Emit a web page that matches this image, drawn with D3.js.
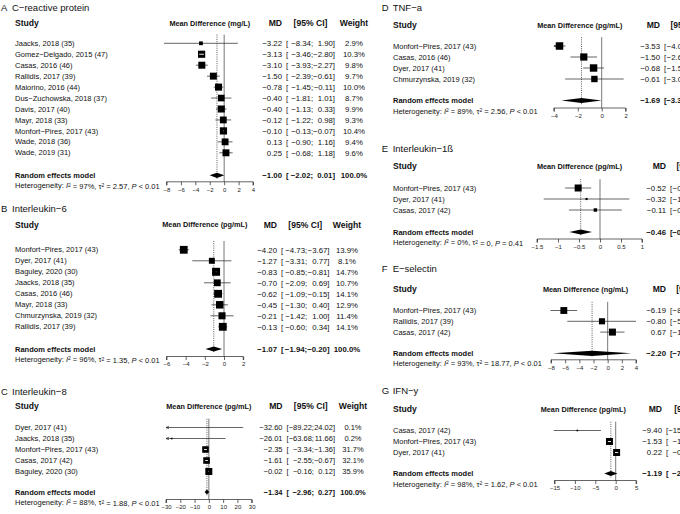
<!DOCTYPE html>
<html><head><meta charset="utf-8">
<script src="https://cdn.jsdelivr.net/npm/d3@7"></script>
<style>
body{margin:0;background:#fff;}
svg{display:block;font-family:"Liberation Sans",Arial,Helvetica,sans-serif;}
</style></head><body>
<svg id="c" width="680" height="514"></svg>
<script>
// ===================== DATA =====================
// A  C-reactive protein
const crpStudies = ["Jaacks, 2018 (35)","Gomez−Delgado, 2015 (47)","Casas, 2016 (46)","Rallidis, 2017 (39)","Maiorino, 2016 (44)","Dus−Zuchowska, 2018 (37)","Davis, 2017 (40)","Mayr, 2018 (33)","Monfort−Pires, 2017 (43)","Wade, 2018 (36)","Wade, 2019 (31)"];
const crpMD     = [-3.22,-3.13,-3.10,-1.50,-0.78,-0.40,-0.40,-0.12,-0.10,0.13,0.25];
const crpLower  = [-8.34,-3.46,-3.93,-2.39,-1.45,-1.81,-1.13,-1.22,-0.13,-0.90,-0.68];
const crpUpper  = [1.90,-2.80,-2.27,-0.61,-0.11,1.01,0.33,0.98,-0.07,1.16,1.18];
const crpWeight = [2.9,10.3,9.8,9.7,10.0,8.7,9.9,9.3,10.4,9.4,9.6];
const crpSummary = [-1.00,-2.02,0.01];
const crpHet = ["97%","2.57","< 0.01"];
const crpTicks = [-8,-6,-4,-2,0,2,4];

// B  Interleukin-6
const il6Studies = ["Monfort−Pires, 2017 (43)","Dyer, 2017 (41)","Baguley, 2020 (30)","Jaacks, 2018 (35)","Casas, 2016 (46)","Mayr, 2018 (33)","Chmurzynska, 2019 (32)","Rallidis, 2017 (39)"];
const il6MD     = [-4.20,-1.27,-0.83,-0.70,-0.62,-0.45,-0.21,-0.13];
const il6Lower  = [-4.73,-3.31,-0.85,-2.09,-1.09,-1.30,-1.42,-0.60];
const il6Upper  = [-3.67,0.77,-0.81,0.69,-0.15,0.40,1.00,0.34];
const il6Weight = [13.9,8.1,14.7,10.7,14.1,12.9,11.4,14.1];
const il6Summary = [-1.07,-1.94,-0.20];
const il6Het = ["96%","1.35","< 0.01"];
const il6Ticks = [-6,-4,-2,0,2];

// C  Interleukin-8
const il8Studies = ["Dyer, 2017 (41)","Jaacks, 2018 (35)","Monfort−Pires, 2017 (43)","Casas, 2017 (42)","Baguley, 2020 (30)"];
const il8MD     = [-32.60,-26.01,-2.35,-1.61,-0.02];
const il8Lower  = [-89.22,-63.68,-3.34,-2.55,-0.16];
const il8Upper  = [24.02,11.66,-1.36,-0.67,0.12];
const il8Weight = [0.1,0.2,31.7,32.1,35.9];
const il8Summary = [-1.34,-2.96,0.27];
const il8Het = ["88%","1.88","< 0.01"];
const il8Ticks = [-30,-20,-10,0,10,20,30];

// D  TNF-a
const tnfStudies = ["Monfort−Pires, 2017 (43)","Casas, 2016 (46)","Dyer, 2017 (41)","Chmurzynska, 2019 (32)"];
const tnfMD     = [-3.53,-1.50,-0.68,-0.61];
const tnfLower  = [-4.03,-2.61,-1.55,-3.06];
const tnfUpper  = [-3.03,-0.39,0.19,1.84];
const tnfWeight = [27.5,25.4,27.0,20.1];
const tnfSummary = [-1.69,-3.37,-0.01];
const tnfHet = ["89%","2.56","< 0.01"];
const tnfTicks = [-4,-2,0,2];

// E  Interleukin-1ß
const il1Studies = ["Monfort−Pires, 2017 (43)","Dyer, 2017 (41)","Casas, 2017 (42)"];
const il1MD     = [-0.52,-0.32,-0.11];
const il1Lower  = [-0.83,-1.34,-0.74];
const il1Upper  = [-0.21,0.70,0.52];
const il1Weight = [74.9,6.9,18.2];
const il1Summary = [-0.46,-0.73,-0.19];
const il1Het = ["0%","0","= 0.41"];
const il1Ticks = [-1.5,-1,-0.5,0,0.5,1];

// F  E-selectin
const eselStudies = ["Monfort−Pires, 2017 (43)","Rallidis, 2017 (39)","Casas, 2017 (42)"];
const eselMD     = [-6.19,-0.80,0.67];
const eselLower  = [-8.07,-5.70,-1.04];
const eselUpper  = [-4.31,4.10,2.38];
const eselWeight = [35.2,28.1,36.7];
const eselSummary = [-2.20,-7.73,3.33];
const eselHet = ["93%","18.77","< 0.01"];
const eselTicks = [-8,-6,-4,-2,0,2,4];

// G  IFN-y
const ifnStudies = ["Casas, 2017 (42)","Monfort−Pires, 2017 (43)","Dyer, 2017 (41)"];
const ifnMD     = [-9.40,-1.53,0.22];
const ifnLower  = [-15.18,-1.91,-0.17];
const ifnUpper  = [-3.62,-1.15,0.61];
const ifnWeight = [2.4,48.6,49.0];
const ifnSummary = [-1.19,-2.80,0.42];
const ifnHet = ["98%","1.62","< 0.01"];
const ifnTicks = [-15,-10,-5,0,5];

// ===================== LAYOUT =====================
const svg = d3.select("#c");
const FS = 7.5;       // body text size
const HS = 8.6;       // header size
const fmt = v => (v < 0 ? "−" : "") + Math.abs(v).toFixed(2);
const tickFmt = v => (v < 0 ? "−" : "") + Math.abs(v);

function panel(o) {
  const g = svg.append("g");
  const NS = o.nfs || FS;
  const rowY = i => o.row0 + i * o.step;
  const x = d3.scaleLinear().domain(o.domain).range(o.range);
  const tx = (xx, yy, s, opt = {}) => g.append("text").attr("x", xx).attr("y", yy).attr("dy", "0.35em")
      .attr("font-size", opt.size || FS).attr("fill", "#111")
      .attr("text-anchor", opt.anchor || "start")
      .attr("font-weight", opt.bold ? "bold" : null).text(s);
  // title
  tx(o.titleX, o.titleY, o.letter, {size: 9.5});
  tx(o.titleX + 11, o.titleY, o.title, {size: 9.5});
  // headers
  tx(o.textX, o.headY, "Study", {size: HS, bold: true});
  tx((o.range[0] + o.range[1]) / 2 + (o.headShift || 0), o.headY, "Mean Difference (" + o.unit + ")", {size: 7.3, bold: true, anchor: "middle"});
  tx(o.mdX, o.headY, "MD", {size: HS, bold: true, anchor: "end"});

  const meas = (s, bold) => {
    const t = tx(-500, -500, s, {bold, size: NS});
    const w = t.node().getComputedTextLength(); t.remove(); return w;
  };
  const allLo = o.lower.concat([o.summary[1]]);
  const allHi = o.upper.concat([o.summary[2]]);
  const ciL = o.mdX + 4;
  const hiW = d3.max(allHi, (v, i) => meas(fmt(v) + "]", i === allHi.length - 1));
  let ciM, ciR;
  if (o.ciR) {
    ciR = o.ciR;
    ciM = ciR - hiW - meas(" ") * 1.2;
  } else {
    const loW = d3.max(allLo, (v, i) => meas(fmt(v) + ";", i === allLo.length - 1));
    ciM = ciL + meas("[") + loW;
    ciR = ciM + meas(" ") * 1.2 + hiW;
  }
  tx((ciL + ciR) / 2, o.headY, "[95% CI]", {size: HS, bold: true, anchor: "middle"});
  tx(o.wX, o.headY, "Weight", {size: HS, bold: true, anchor: "middle"});

  const rowText = (yy, md, lo, hi, w, bold) => {
    tx(o.mdX, yy, fmt(md), {anchor: "end", bold, size: NS});
    tx(ciL, yy, "[", {bold, size: NS});
    tx(ciM, yy, fmt(lo) + ";", {anchor: "end", bold, size: NS});
    tx(ciR, yy, fmt(hi) + "]", {anchor: "end", bold, size: NS});
    tx(o.wX, yy, w.toFixed(1) + "%", {anchor: "middle", bold, size: NS});
  };

  // reference lines
  const topY = o.row0 - o.step * 0.8;
  g.append("line").attr("x1", x(0)).attr("x2", x(0)).attr("y1", topY).attr("y2", o.axisY)
    .attr("stroke", "#555").attr("stroke-width", 0.8);
  g.append("line").attr("x1", x(o.summary[0])).attr("x2", x(o.summary[0]))
    .attr("y1", topY).attr("y2", o.randY + 4)
    .attr("stroke", "#333").attr("stroke-width", 0.8).attr("stroke-dasharray", "1,1.2");

  const wmax = d3.max(o.weight);
  const [cmin, cmax] = o.clip || o.domain;
  o.studies.forEach((s, i) => {
    const yy = rowY(i);
    tx(o.textX, yy, s);
    rowText(yy, o.md[i], o.lower[i], o.upper[i], o.weight[i], false);
    const lo = Math.max(o.lower[i], cmin), hi = Math.min(o.upper[i], cmax);
    g.append("line").attr("x1", x(lo)).attr("x2", x(hi)).attr("y1", yy).attr("y2", yy)
      .attr("stroke", "#222").attr("stroke-width", 0.7);
    if (o.lower[i] < cmin) {
      const ax = x(cmin);
      g.append("path").attr("d", `M${ax + 3},${yy - 1.3} L${ax},${yy} L${ax + 3},${yy + 1.3}`)
        .attr("fill", "none").attr("stroke", "#222").attr("stroke-width", 0.7);
    }
    if (o.md[i] >= cmin && o.md[i] <= cmax) {
      const sz = Math.max(1.6, o.box * Math.sqrt(o.weight[i] / wmax));
      const cx = x(o.md[i]);
      g.append("rect").attr("x", cx - sz / 2).attr("y", yy - sz / 2).attr("width", sz).attr("height", sz)
        .attr("fill", "#000");
      if (x(o.lower[i]) > cx - sz / 2 && x(o.upper[i]) < cx + sz / 2) {
        g.append("line").attr("x1", x(o.lower[i])).attr("x2", x(o.upper[i])).attr("y1", yy).attr("y2", yy)
          .attr("stroke", "#fff").attr("stroke-width", 0.9);
      }
    }
  });
  // summary
  const ry = o.randY;
  tx(o.textX, ry, "Random effects model", {bold: true});
  rowText(ry, o.summary[0], o.summary[1], o.summary[2], 100, true);
  const dh = 2.6;
  g.append("path").attr("d",
    `M${x(o.summary[1])},${ry} L${x(o.summary[0])},${ry - dh} L${x(o.summary[2])},${ry} L${x(o.summary[0])},${ry + dh} Z`)
    .attr("fill", "#000");
  // heterogeneity
  const ht = g.append("text").attr("x", o.textX).attr("y", o.hetY).attr("dy", "0.35em")
    .attr("font-size", FS).attr("fill", "#111");
  ht.append("tspan").text("Heterogeneity: ");
  ht.append("tspan").attr("font-style", "italic").text("I");
  ht.append("tspan").attr("font-size", 5).attr("dy", "-0.35em").text("2");
  ht.append("tspan").attr("dy", "0.26em").text(" = " + o.het[0] + ", τ");
  ht.append("tspan").attr("font-size", 5).attr("dy", "-0.35em").text("2");
  ht.append("tspan").attr("dy", "0.26em").text(" = " + o.het[1] + ", ");
  ht.append("tspan").attr("font-style", "italic").text("P");
  ht.append("tspan").text(" " + o.het[2]);
  // axis
  const ax = d3.axisBottom(x).tickValues(o.ticks).tickSize(3.5).tickFormat(tickFmt);
  const ag = g.append("g").attr("transform", `translate(0,${o.axisY})`).call(ax);
  ag.select(".domain").attr("stroke", "#222").attr("stroke-width", 0.7)
    .attr("d", `M${o.range[0]},3.5V0H${o.range[1]}V3.5`);
  ag.selectAll(".tick line").attr("stroke", "#222").attr("stroke-width", 0.7);
  ag.selectAll(".tick text").attr("font-size", 6).attr("y", 5.5)
    .attr("font-family", "Liberation Sans, Arial, sans-serif").attr("fill", "#222");
}

// left column
panel({letter: "A", title: "C−reactive protein", unit: "mg/L",
  studies: crpStudies, md: crpMD, lower: crpLower, upper: crpUpper, weight: crpWeight,
  summary: crpSummary, het: crpHet, ticks: crpTicks, domain: [-8, 4], clip: [-8.6, 4], range: [166.5, 253],
  titleX: 1, titleY: 7.5, textX: 15, headY: 23, row0: 43.3, step: 10.95, randY: 175.3, hetY: 185.8, axisY: 181.8,
  mdX: 282, ciR: 335, wX: 354, box: 7.2, nfs: 7.8});

panel({letter: "B", title: "Interleukin−6", unit: "pg/mL",
  studies: il6Studies, md: il6MD, lower: il6Lower, upper: il6Upper, weight: il6Weight,
  summary: il6Summary, het: il6Het, ticks: il6Ticks, domain: [-6, 2], range: [166.5, 243.2],
  titleX: 1, titleY: 209, textX: 15, headY: 224.5, row0: 249.8, step: 11, randY: 349, hetY: 359.5, axisY: 356.5,
  mdX: 277, ciR: 329.5, wX: 347, box: 8, nfs: 7.8});

panel({letter: "C", title: "Interleukin−8", unit: "pg/mL",
  studies: il8Studies, md: il8MD, lower: il8Lower, upper: il8Upper, weight: il8Weight,
  summary: il8Summary, het: il8Het, ticks: il8Ticks, domain: [-30, 30], range: [166, 251.7],
  titleX: 1, titleY: 391.5, textX: 15, headY: 406, row0: 427.5, step: 11, randY: 492, hetY: 502.5, axisY: 499.5,
  mdX: 282.5, ciR: 335, wX: 353, box: 7, nfs: 7.5});

// right column
panel({letter: "D", title: "TNF−a", unit: "pg/mL",
  studies: tnfStudies, md: tnfMD, lower: tnfLower, upper: tnfUpper, weight: tnfWeight,
  summary: tnfSummary, het: tnfHet, ticks: tnfTicks, domain: [-4, 2], range: [553.9, 625.6],
  titleX: 381.7, titleY: 7.5, textX: 393, headY: 25, row0: 46, step: 11, randY: 100.5, hetY: 111, axisY: 108,
  mdX: 660, wX: 730, box: 7.5, headShift: -10, nfs: 7.8});

panel({letter: "E", title: "Interleukin−1ß", unit: "pg/mL",
  studies: il1Studies, md: il1MD, lower: il1Lower, upper: il1Upper, weight: il1Weight,
  summary: il1Summary, het: il1Het, ticks: il1Ticks, domain: [-1.5, 1], range: [537, 642],
  titleX: 381.7, titleY: 149, textX: 393, headY: 166, row0: 188, step: 11, randY: 232, hetY: 242.5, axisY: 239,
  mdX: 666, wX: 740, box: 7, headShift: -10, nfs: 7.8});

panel({letter: "F", title: "E−selectin", unit: "ng/mL",
  studies: eselStudies, md: eselMD, lower: eselLower, upper: eselUpper, weight: eselWeight,
  summary: eselSummary, het: eselHet, ticks: eselTicks, domain: [-8, 4], clip: [-8.6, 4], range: [551, 636],
  titleX: 381.7, titleY: 269, textX: 393, headY: 289.3, row0: 310.5, step: 10.8, randY: 353.3, hetY: 363, axisY: 359.8,
  mdX: 666, wX: 740, box: 7, headShift: -8, nfs: 7.8});

panel({letter: "G", title: "IFN−y", unit: "pg/mL",
  studies: ifnStudies, md: ifnMD, lower: ifnLower, upper: ifnUpper, weight: ifnWeight,
  summary: ifnSummary, het: ifnHet, ticks: ifnTicks, domain: [-15, 5], clip: [-16, 5], range: [554.5, 636.1],
  titleX: 381.7, titleY: 391, textX: 393, headY: 409, row0: 430.5, step: 11, randY: 473.5, hetY: 484, axisY: 480.5,
  mdX: 662, wX: 740, box: 7, headShift: -12, nfs: 7.8});
</script>
</body></html>
